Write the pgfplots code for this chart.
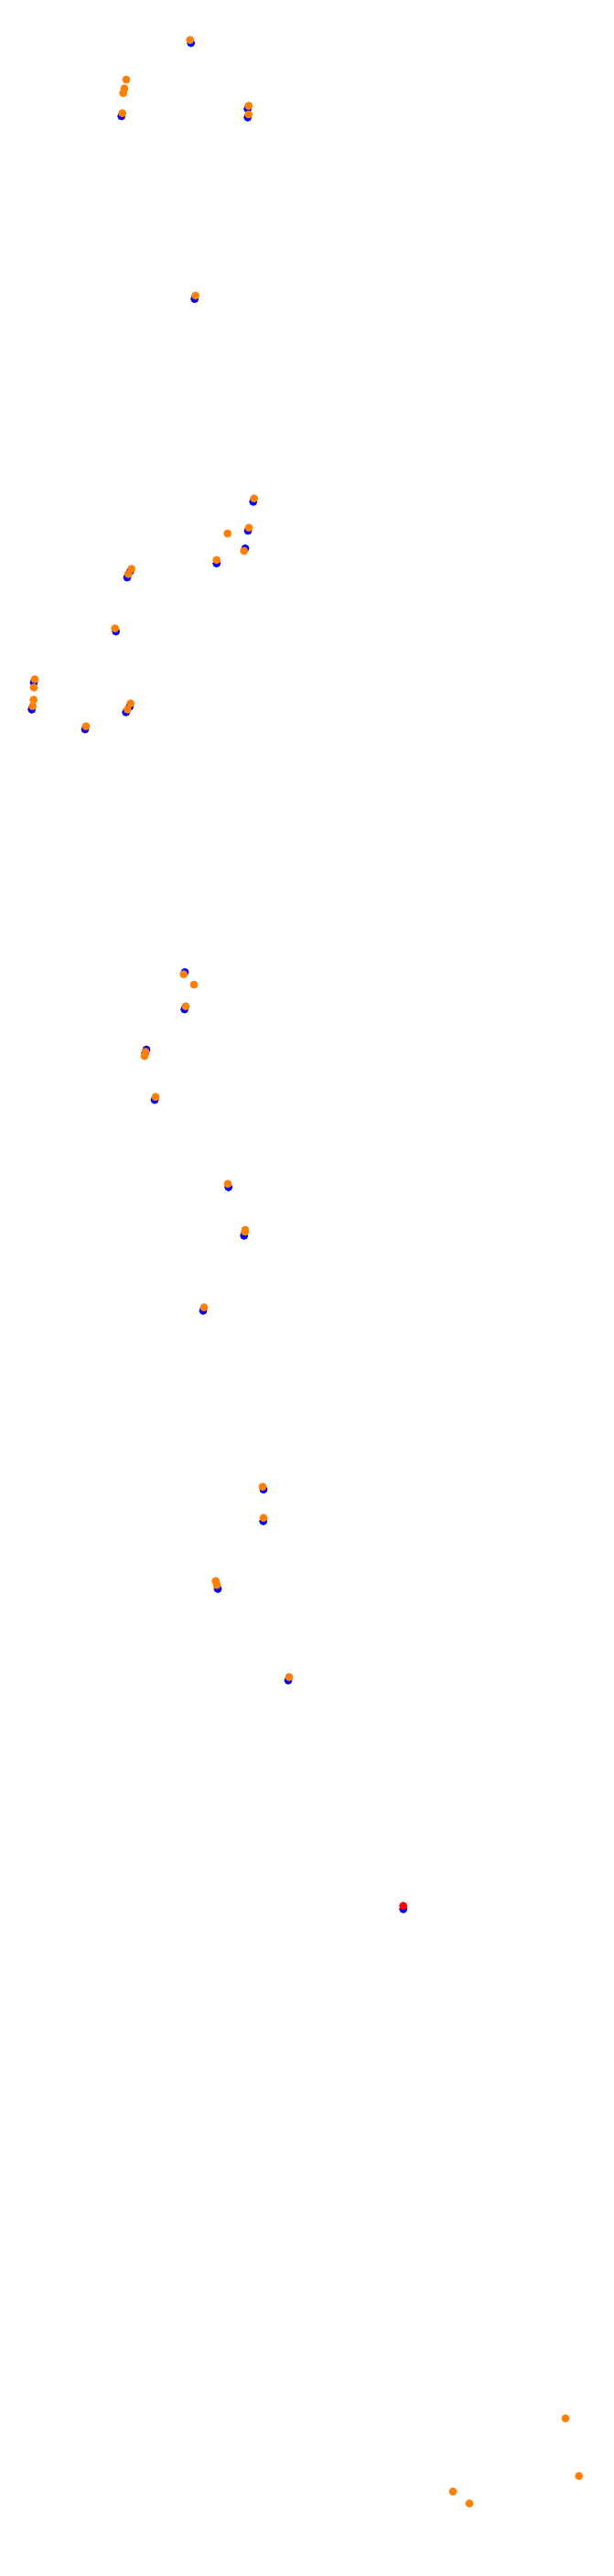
\documentclass[border=0pt]{standalone}
\usepackage{pgfplots}
\pgfplotsset{compat=1.18}
\definecolor{dotblue}{RGB}{0,0,255}
\definecolor{dotorange}{RGB}{255,128,0}
\definecolor{dotred}{RGB}{255,0,0}
\begin{document}
\begin{tikzpicture}
\begin{axis}[
  width=671pt, height=2815pt, scale only axis,
  xmin=0, xmax=671, ymin=0, ymax=2815, y dir=reverse,
  hide axis, clip=false,
]
\path (rel axis cs:0,0) rectangle (rel axis cs:1,1);
\addplot[only marks, mark=*, mark size=4.2pt, color=dotblue, mark options={draw=dotblue, fill=dotblue}] coordinates {
(208.7,47) (132.7,127) (270.7,119) (270.7,128.3) (212.7,326.7)
(276.7,548.3) (271,580) (268,599.3) (236.7,615.7) (142.3,624.3) (139,631)
(126.7,690) (37,745.7) (34.7,775.3) (141.7,772.3) (137.7,778.3) (93,797)
(202,1062.3) (201.7,1103) (160,1147) (158.7,1150.7) (169,1202)
(249.7,1297.3) (266.7,1350.3) (222,1432.3)
(288,1627.7) (287.7,1662.3) (238,1736.3) (315,1836.3)
(440.7,2086.3)
};
\addplot[only marks, mark=*, mark size=4.2pt, color=dotorange, mark options={draw=dotorange, fill=dotorange}] coordinates {
(207.7,43.7) (138,87) (136,96.7) (134.7,101.7) (133.7,123.7) (271.7,115.7) (271.7,125)
(213.7,323)
(277.7,544.7) (272,576.7) (248.7,583) (266.7,602) (236.7,612) (143.7,621.7) (140.3,627.3)
(125.7,686.7) (38,742.3) (37,751.3) (36.7,764.7) (35.7,771.7) (142.7,768.7) (139.3,775.3) (94,793.7)
(200.7,1064.7) (212,1076) (203,1099.7) (159,1149.3) (158,1154) (170,1198.7)
(249,1293.7) (268,1344) (267.7,1346) (223,1428.7)
(287,1624.7) (288,1658.7) (235.7,1727.7) (237,1732) (316,1832.7)
(618,2642.7) (632.7,2705.7) (495,2722.7) (513,2735.7)
};
\addplot[only marks, mark=*, mark size=4.2pt, color=dotred, mark options={draw=dotred, fill=dotred}] coordinates {
(440.7,2082.7)
};
\end{axis}
\end{tikzpicture}
\end{document}
